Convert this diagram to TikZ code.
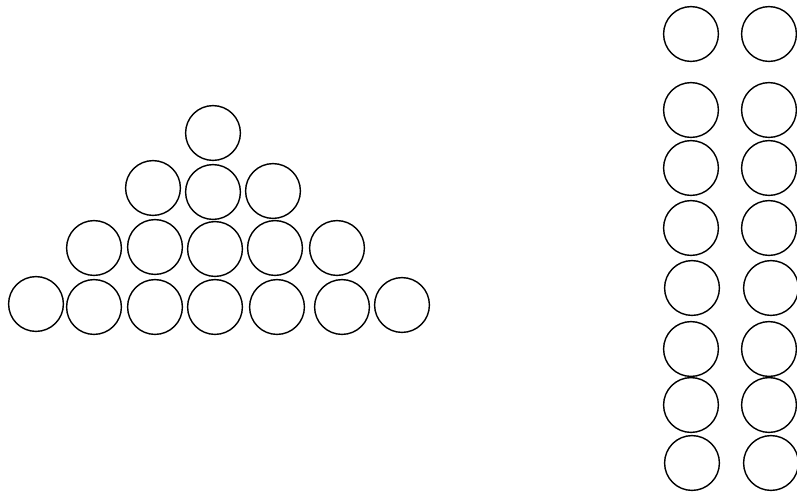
\documentclass[tikz,border=0pt]{standalone}
\usepackage{tikz}

\begin{document}
\begin{tikzpicture}[x=0.025cm, y=-0.025cm,
  ball/.style={draw, circle, line width=1pt, minimum size=1.37cm, inner sep=0pt}]
\useasboundingbox (0,0) rectangle (797,495);
% triangle, bottom row
\node[ball] (t1) at (36,304) {};
\node[ball] (t2) at (94,307) {};
\node[ball] (t3) at (155,307) {};
\node[ball] (t4) at (215,307) {};
\node[ball] (t5) at (277,307) {};
\node[ball] (t6) at (342,307) {};
\node[ball] (t7) at (402,305) {};
% second row
\node[ball] (t8) at (94,248) {};
\node[ball] (t9) at (155,247) {};
\node[ball] (t10) at (215,249) {};
\node[ball] (t11) at (275,248) {};
\node[ball] (t12) at (337,248) {};
% third row
\node[ball] (t13) at (153,188) {};
\node[ball] (t14) at (213,192) {};
\node[ball] (t15) at (273,191) {};
% top
\node[ball] (t16) at (213,133) {};
% left column
\node[ball] (l1) at (691,34) {};
\node[ball] (l2) at (691,110) {};
\node[ball] (l3) at (691,168) {};
\node[ball] (l4) at (691,228) {};
\node[ball] (l5) at (692,288) {};
\node[ball] (l6) at (691,349) {};
\node[ball] (l7) at (691,405) {};
\node[ball] (l8) at (692,463) {};
% right column
\node[ball] (r1) at (769,34) {};
\node[ball] (r2) at (769,110) {};
\node[ball] (r3) at (769,168) {};
\node[ball] (r4) at (769,228) {};
\node[ball] (r5) at (771,288) {};
\node[ball] (r6) at (769,349) {};
\node[ball] (r7) at (769,405) {};
\node[ball] (r8) at (771,463) {};
\end{tikzpicture}
\end{document}
